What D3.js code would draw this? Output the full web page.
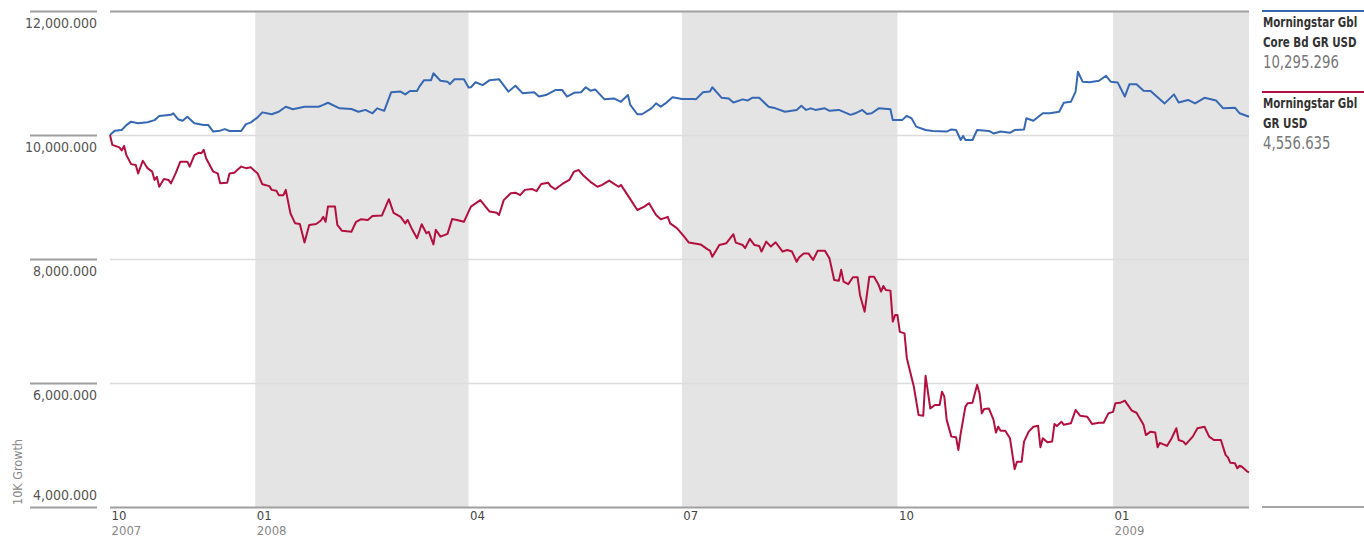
<!DOCTYPE html>
<html>
<head>
<meta charset="utf-8">
<script src="https://cdn.jsdelivr.net/npm/d3@7"></script>
<style>
  body { margin: 0; background: #fff; }
  svg text { font-family: "DejaVu Sans Condensed", "Liberation Sans Narrow", "Roboto", sans-serif; font-stretch: condensed; }
</style>
</head>
<body>
<div id="chart"></div>
<script>
// Morningstar Gbl Core Bd GR USD (blue)
const coreBondDates = [
  "2007-10-31","2007-11-02","2007-11-05","2007-11-07","2007-11-09","2007-11-12","2007-11-16","2007-11-19","2007-11-21","2007-11-26",
  "2007-11-27","2007-11-29","2007-12-01","2007-12-03","2007-12-06","2007-12-10","2007-12-12","2007-12-14","2007-12-17","2007-12-19",
  "2007-12-21","2007-12-26","2007-12-28","2007-12-30","2008-01-02","2008-01-04","2008-01-08","2008-01-11","2008-01-14","2008-01-17",
  "2008-01-22","2008-01-28","2008-01-30","2008-02-01","2008-02-06","2008-02-11","2008-02-14","2008-02-17","2008-02-20","2008-02-22",
  "2008-02-25","2008-02-28","2008-03-03","2008-03-05","2008-03-07","2008-03-10","2008-03-11","2008-03-13","2008-03-16","2008-03-17",
  "2008-03-20","2008-03-23","2008-03-24","2008-03-26","2008-03-30","2008-04-01","2008-04-02","2008-04-04","2008-04-07","2008-04-10",
  "2008-04-14","2008-04-18","2008-04-21","2008-04-24","2008-04-29","2008-05-01","2008-05-04","2008-05-08","2008-05-11","2008-05-13",
  "2008-05-16","2008-05-19","2008-05-21","2008-05-23","2008-05-25","2008-05-29","2008-06-02","2008-06-05","2008-06-08","2008-06-09",
  "2008-06-12","2008-06-14","2008-06-18","2008-06-20","2008-06-22","2008-06-24","2008-06-27","2008-07-01","2008-07-06","2008-07-07",
  "2008-07-10","2008-07-13","2008-07-14","2008-07-18","2008-07-21","2008-07-23","2008-07-27","2008-07-29","2008-07-31","2008-08-03",
  "2008-08-07","2008-08-10","2008-08-14","2008-08-19","2008-08-21","2008-08-23","2008-08-25","2008-08-27","2008-08-31","2008-09-02",
  "2008-09-06","2008-09-11","2008-09-13","2008-09-16","2008-09-18","2008-09-20","2008-09-23","2008-09-28","2008-09-29","2008-10-03",
  "2008-10-05","2008-10-07","2008-10-09","2008-10-13","2008-10-16","2008-10-22","2008-10-24","2008-10-26","2008-10-28","2008-10-29",
  "2008-10-30","2008-11-02","2008-11-04","2008-11-09","2008-11-11","2008-11-14","2008-11-18","2008-11-20","2008-11-24","2008-11-25",
  "2008-11-28","2008-12-02","2008-12-05","2008-12-09","2008-12-11","2008-12-14","2008-12-16","2008-12-17","2008-12-19","2008-12-22",
  "2008-12-26","2008-12-29","2008-12-31","2009-01-03","2009-01-06","2009-01-08","2009-01-11","2009-01-14","2009-01-17","2009-01-20",
  "2009-01-23","2009-01-27","2009-01-29","2009-02-02","2009-02-05","2009-02-09","2009-02-14","2009-02-17","2009-02-22","2009-02-24",
  "2009-02-28"
];
const coreBondValues = [
  10000,10070,10080,10160,10215,10190,10205,10240,10305,10325,
  10350,10255,10230,10295,10190,10160,10160,10055,10070,10095,
  10065,10065,10175,10200,10285,10365,10335,10375,10455,10415,
  10455,10455,10485,10520,10430,10420,10375,10405,10350,10430,
  10390,10690,10700,10655,10710,10710,10780,10885,10885,10995,
  10875,10860,10820,10900,10900,10765,10770,10850,10805,10885,
  10900,10700,10795,10675,10690,10620,10645,10725,10725,10620,
  10680,10690,10770,10715,10735,10575,10590,10535,10645,10485,
  10335,10335,10430,10510,10455,10510,10610,10580,10580,10575,
  10690,10700,10770,10600,10590,10525,10575,10555,10600,10600,
  10455,10430,10375,10405,10470,10405,10430,10405,10430,10390,
  10405,10325,10350,10405,10340,10350,10430,10415,10240,10240,
  10310,10270,10135,10080,10065,10055,10090,10080,9920,9985,
  9920,9920,10080,10065,10025,10055,10035,10080,10090,10270,
  10230,10350,10350,10375,10520,10535,10700,11020,10860,10850,
  10875,10955,10860,10845,10620,10820,10820,10715,10710,10610,
  10510,10655,10525,10565,10510,10600,10555,10430,10440,10350,
  10295.296
];

// Morningstar Gbl GR USD (red)
const globalDates = [
  "2007-10-31","2007-11-01","2007-11-04","2007-11-05","2007-11-06","2007-11-07","2007-11-09","2007-11-11","2007-11-12","2007-11-14",
  "2007-11-16","2007-11-18","2007-11-19","2007-11-20","2007-11-21","2007-11-23","2007-11-25","2007-11-26","2007-11-28","2007-11-30",
  "2007-12-03","2007-12-04","2007-12-06","2007-12-08","2007-12-09","2007-12-10","2007-12-11","2007-12-14","2007-12-16","2007-12-17",
  "2007-12-20","2007-12-21","2007-12-23","2007-12-26","2007-12-28","2007-12-30","2008-01-02","2008-01-04","2008-01-07","2008-01-08",
  "2008-01-10","2008-01-11","2008-01-13","2008-01-14","2008-01-16","2008-01-18","2008-01-20","2008-01-22","2008-01-24","2008-01-27",
  "2008-01-29","2008-01-30","2008-01-31","2008-02-01","2008-02-04","2008-02-05","2008-02-07","2008-02-11","2008-02-13","2008-02-15",
  "2008-02-18","2008-02-20","2008-02-24","2008-02-27","2008-02-29","2008-03-03","2008-03-05","2008-03-06","2008-03-08","2008-03-10",
  "2008-03-12","2008-03-14","2008-03-15","2008-03-17","2008-03-18","2008-03-20","2008-03-23","2008-03-25","2008-03-27","2008-03-30",
  "2008-04-02","2008-04-06","2008-04-08","2008-04-10","2008-04-13","2008-04-14","2008-04-16","2008-04-19","2008-04-21","2008-04-23",
  "2008-04-25","2008-04-28","2008-04-30","2008-05-02","2008-05-05","2008-05-06","2008-05-08","2008-05-11","2008-05-14","2008-05-16",
  "2008-05-18","2008-05-20","2008-05-23","2008-05-26","2008-05-28","2008-05-31","2008-06-04","2008-06-05","2008-06-09","2008-06-12",
  "2008-06-15","2008-06-17","2008-06-20","2008-06-22","2008-06-25","2008-06-26","2008-06-29","2008-07-02","2008-07-04","2008-07-09",
  "2008-07-12","2008-07-13","2008-07-14","2008-07-17","2008-07-20","2008-07-23","2008-07-24","2008-07-27","2008-07-28","2008-07-30",
  "2008-08-01","2008-08-03","2008-08-04","2008-08-06","2008-08-08","2008-08-10","2008-08-13","2008-08-15","2008-08-17","2008-08-19",
  "2008-08-20","2008-08-22","2008-08-24","2008-08-26","2008-08-28","2008-08-31","2008-09-02","2008-09-04","2008-09-06","2008-09-07",
  "2008-09-08","2008-09-10","2008-09-12","2008-09-14","2008-09-15","2008-09-17","2008-09-19","2008-09-21","2008-09-23","2008-09-24",
  "2008-09-25","2008-09-26","2008-09-28","2008-09-29","2008-09-30","2008-10-01","2008-10-02","2008-10-04","2008-10-05","2008-10-08",
  "2008-10-10","2008-10-12","2008-10-13","2008-10-15","2008-10-17","2008-10-19","2008-10-20","2008-10-21","2008-10-22","2008-10-24",
  "2008-10-26","2008-10-27","2008-10-28","2008-10-30","2008-10-31","2008-11-02","2008-11-04","2008-11-05","2008-11-06","2008-11-07",
  "2008-11-09","2008-11-11","2008-11-12","2008-11-13","2008-11-14","2008-11-16","2008-11-18","2008-11-20","2008-11-21","2008-11-23",
  "2008-11-24","2008-11-26","2008-11-28","2008-11-30","2008-12-01","2008-12-02","2008-12-04","2008-12-06","2008-12-07","2008-12-08",
  "2008-12-10","2008-12-11","2008-12-14","2008-12-16","2008-12-18","2008-12-21","2008-12-23","2008-12-26","2008-12-28","2008-12-30",
  "2009-01-01","2009-01-02","2009-01-04","2009-01-06","2009-01-09","2009-01-11","2009-01-14","2009-01-15","2009-01-17","2009-01-19",
  "2009-01-20","2009-01-21","2009-01-24","2009-01-26","2009-01-28","2009-01-29","2009-01-31","2009-02-01","2009-02-04","2009-02-06",
  "2009-02-09","2009-02-11","2009-02-13","2009-02-16","2009-02-18","2009-02-19","2009-02-20","2009-02-22","2009-02-23","2009-02-24",
  "2009-02-25","2009-02-27","2009-02-28"
];
const globalValues = [
  10000,9840,9800,9750,9825,9675,9530,9515,9380,9585,
  9465,9410,9275,9325,9165,9290,9275,9220,9380,9570,
  9570,9490,9675,9715,9705,9760,9625,9410,9380,9220,
  9230,9380,9390,9490,9465,9480,9380,9205,9175,9115,
  9100,9030,9030,9115,8735,8575,8565,8265,8550,8565,
  8620,8680,8600,8845,8845,8550,8455,8440,8600,8640,
  8630,8695,8700,8965,8745,8680,8575,8630,8470,8335,
  8560,8415,8440,8235,8470,8360,8405,8645,8630,8600,
  8845,8950,8855,8765,8745,8710,8950,9060,9070,9030,
  9115,9130,9095,9210,9230,9175,9125,9210,9275,9410,
  9435,9345,9245,9165,9195,9265,9165,9195,8965,8790,
  8845,8900,8710,8640,8680,8575,8495,8360,8265,8235,
  8155,8135,8035,8225,8255,8400,8265,8225,8175,8325,
  8225,8210,8120,8280,8200,8270,8120,8145,8120,7955,
  8025,8090,8090,7985,8135,8135,8010,7660,7650,7825,
  7635,7595,7705,7705,7420,7150,7715,7715,7580,7475,
  7565,7500,7490,6990,7095,7095,6825,6800,6400,5940,
  5485,5470,6115,5590,5645,5645,5860,5780,5405,5135,
  5125,4920,5190,5620,5675,5680,5970,5835,5510,5580,
  5590,5405,5200,5295,5230,5230,5110,4610,4730,4730,
  5055,5215,5295,5310,4965,5110,5045,5055,5340,5305,
  5375,5325,5350,5565,5470,5455,5340,5360,5360,5510,
  5535,5675,5680,5715,5555,5520,5325,5160,5215,5200,
  4965,5035,4985,5110,5270,5080,5055,5010,5135,5270,
  5295,5135,5080,5080,4840,4800,4715,4705,4625,4665,
  4650,4580,4556.635
];

const seriesNames = [["Morningstar Gbl", "Core Bd GR USD"], ["Morningstar Gbl", "GR USD"]];
const seriesColors = ["#3768b3", "#b3103f"];

const yTicks = [4000, 6000, 8000, 10000, 12000];
const xTicks = ["2007-10-31", "2008-01-01", "2008-04-01", "2008-07-01", "2008-10-01", "2009-01-01"];
const shadedQuarters = [["2008-01-01", "2008-04-01"], ["2008-07-01", "2008-10-01"], ["2009-01-01", "2009-02-28"]];
const yTitle = "10K Growth";

const width = 1364;
const height = 538;
const parse = d3.timeParse("%Y-%m-%d");

const series = [
  coreBondDates.map((d, i) => ({ date: parse(d), value: coreBondValues[i] })),
  globalDates.map((d, i) => ({ date: parse(d), value: globalValues[i] }))
];

const plot = { left: 110, right: 1249, top: 11, bottom: 507 };

const svg = d3.select("#chart").append("svg")
  .attr("width", width)
  .attr("height", height);

const x = d3.scaleTime()
  .domain([parse("2007-10-31"), parse("2009-02-28")])
  .range([plot.left, plot.right]);

const y = d3.scaleLinear()
  .domain([4000, 12000])
  .range([plot.bottom, plot.top]);

// shaded quarters
svg.append("g").selectAll("rect")
  .data(shadedQuarters)
  .join("rect")
  .attr("x", d => x(parse(d[0])))
  .attr("width", d => x(parse(d[1])) - x(parse(d[0])))
  .attr("y", plot.top)
  .attr("height", plot.bottom - plot.top)
  .attr("fill", "#e4e4e4");

// gridlines
const grid = svg.append("g")
  .attr("transform", `translate(${plot.left},0)`)
  .call(d3.axisLeft(y).tickValues(yTicks).tickFormat("").tickSize(-(plot.right - plot.left)));
grid.select(".domain").remove();
grid.selectAll(".tick line")
  .attr("stroke", d => (d === 4000 || d === 12000) ? "#a0a0a0" : "#dcdcdc")
  .attr("stroke-width", d => (d === 4000 || d === 12000) ? 2 : 1.5);

// y axis: short rules with labels underneath (the lowest one sits above its rule)
const fmt = d3.format(",.3f");
const yAxis = svg.append("g")
  .attr("transform", "translate(97,0)")
  .call(d3.axisLeft(y).tickValues(yTicks).tickSize(67).tickFormat(fmt));
yAxis.select(".domain").remove();
yAxis.selectAll(".tick line").attr("stroke", "#a0a0a0").attr("stroke-width", 2);
yAxis.selectAll(".tick text")
  .attr("x", 0)
  .attr("dy", d => d === 4000 ? -8 : 16)
  .attr("fill", "#555")
  .style("font-size", "14px")
  .style("text-anchor", "end");

svg.append("text")
  .attr("transform", "translate(22,472) rotate(-90)")
  .attr("text-anchor", "middle")
  .attr("fill", "#888")
  .style("font-size", "12.5px")
  .text(yTitle);

// x axis
const xAxis = svg.append("g")
  .attr("transform", `translate(0,${plot.bottom})`)
  .call(d3.axisBottom(x).tickValues(xTicks.map(parse)).tickSize(0).tickFormat(d3.timeFormat("%m")));
xAxis.select(".domain").remove();
xAxis.selectAll(".tick text")
  .attr("x", 1)
  .attr("y", 0)
  .attr("dy", 13)
  .attr("fill", "#444")
  .style("font-size", "13px")
  .style("text-anchor", "start");
xAxis.selectAll(".tick")
  .filter((d, i) => i === 0 || d.getMonth() === 0)
  .append("text")
  .attr("x", 1)
  .attr("dy", 28)
  .attr("fill", "#888")
  .style("font-size", "13px")
  .style("text-anchor", "start")
  .text(d => d3.timeFormat("%Y")(d));

// lines
const line = d3.line()
  .x(d => x(d.date))
  .y(d => y(d.value));

svg.append("g").selectAll("path")
  .data(series)
  .join("path")
  .attr("d", line)
  .attr("fill", "none")
  .attr("stroke", (d, i) => seriesColors[i])
  .attr("stroke-width", 2)
  .attr("stroke-linejoin", "round");

// legend on the right
const legendTops = [11, 92];
const legend = svg.append("g").attr("transform", "translate(1262,0)");
series.forEach((s, i) => {
  const g = legend.append("g").attr("transform", `translate(0,${legendTops[i]})`);
  g.append("line")
    .attr("x1", 0).attr("x2", 102)
    .attr("stroke", seriesColors[i]).attr("stroke-width", 2);
  const txt = g.append("g").attr("transform", "translate(1,0) scale(0.82,1)");
  seriesNames[i].forEach((t, j) => {
    txt.append("text")
      .attr("y", 16 + j * 20.5)
      .attr("fill", "#333")
      .style("font-size", "14px")
      .style("font-weight", "bold")
      .text(t);
  });
  txt.append("text")
    .attr("y", 57)
    .attr("fill", "#777")
    .style("font-size", "18px")
    .text(fmt(s[s.length - 1].value));
});
legend.append("line")
  .attr("x1", 0).attr("x2", 102)
  .attr("y1", plot.bottom).attr("y2", plot.bottom)
  .attr("stroke", "#888").attr("stroke-width", 1.5);
</script>
</body>
</html>
